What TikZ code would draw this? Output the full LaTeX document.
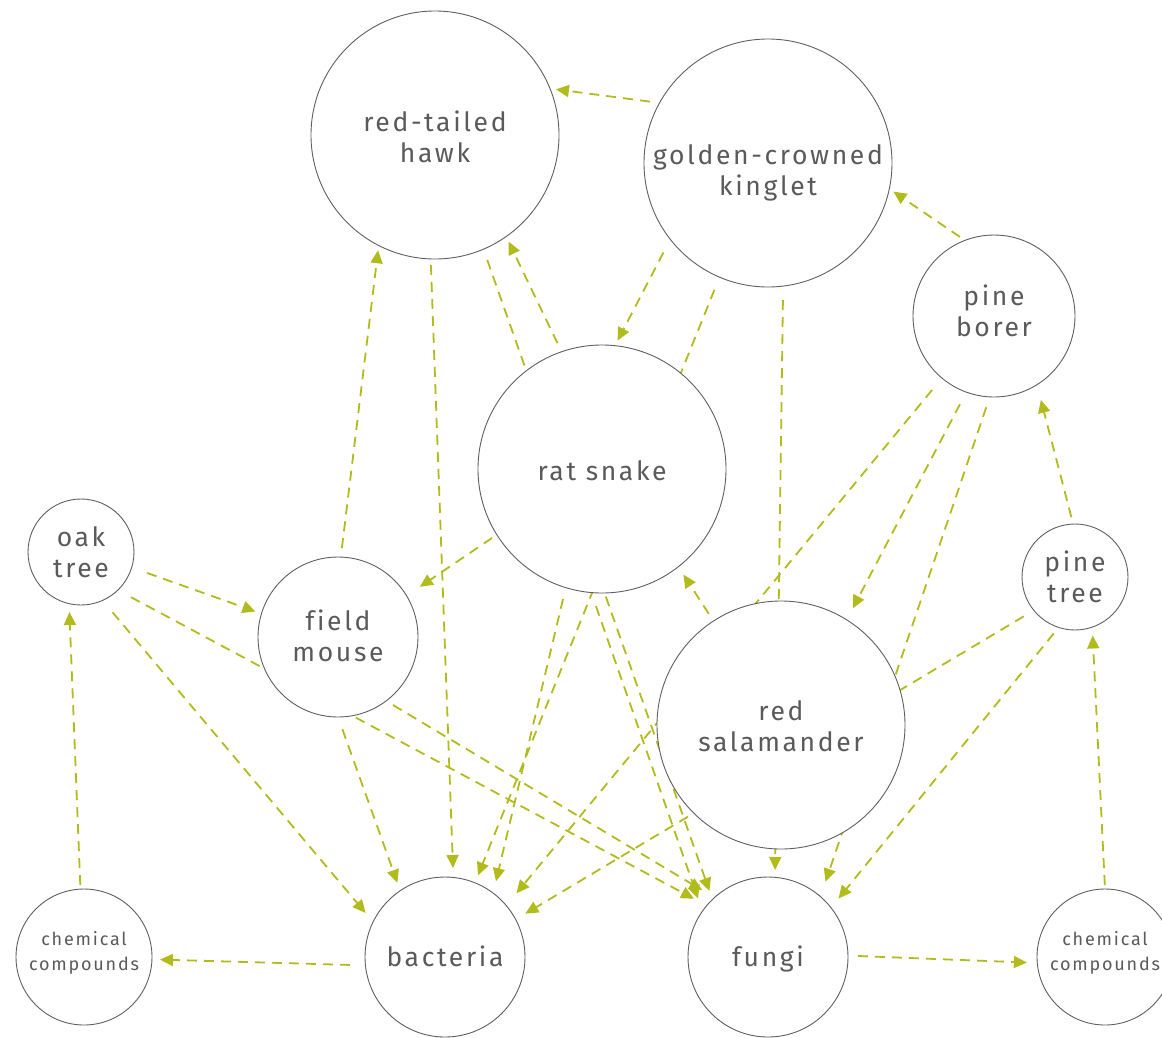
\documentclass[tikz,border=0pt]{standalone}
\usepackage{fontspec}
\setmainfont{Fira Sans}[LetterSpace=10,Ligatures=NoCommon]
\usetikzlibrary{arrows.meta}
\definecolor{edgec}{RGB}{178,187,28}
\definecolor{txt}{RGB}{90,90,90}
\definecolor{ring}{RGB}{95,95,95}
\pgfdeclarelayer{bg}
\pgfsetlayers{bg,main}
% label: vertical shift (down positive, in pt), lines
\newcommand\lbl[2]{\raisebox{-#1pt}[\height][\depth]{\begin{tabular}{@{}c@{}}#2\end{tabular}}}
\begin{document}
\begin{tikzpicture}[x=1pt,y=-1pt,
  nd/.style={circle,draw=ring,line width=0.9pt,fill=white,inner sep=0pt,outer sep=0pt,
    text=txt,align=center,font=\fontsize{26.5}{31}\selectfont},
  bigc/.style={nd,minimum size=248pt},
  midc/.style={nd,minimum size=160pt},
  pinec/.style={nd,minimum size=162pt},
  smallc/.style={nd,minimum size=106pt},
  chemc/.style={nd,minimum size=136pt,font=\fontsize{18}{25}\selectfont},
  edge/.style={draw=edgec,line width=1.8pt,dash pattern=on 10pt off 7pt,
    -{Triangle[length=13pt,width=12pt]}}]
\useasboundingbox (0,0) rectangle (1162,1037);
\clip (0,0) rectangle (1162,1037);
% nodes
\node[bigc]  (H)    at (435,135) {\lbl{5.7}{red-tailed\\hawk}};
\node[bigc]  (K)    at (768,163) {\lbl{11}{golden-crowned\\kinglet}};
\node[pinec] (PB)   at (994,316) {\lbl{-0.8}{pine\\borer}};
\node[bigc]  (RS)   at (602,469) {\lbl{4.8}{rat snake}};
\node[smallc](OT)   at (81,552)  {\lbl{3.7}{oak\\tree}};
\node[midc]  (FM)   at (338,637) {\lbl{2.7}{field\\mouse}};
\node[smallc](PT)   at (1075,577) {\lbl{3.7}{pine\\tree}};
\node[bigc]  (RSal) at (781,725) {\lbl{4.7}{red\\salamander}};
\node[chemc] (CL)   at (84,957)  {\lbl{-4}{chemical\\compounds}};
\node[midc]  (B)    at (445,957) {\lbl{2.8}{bacteria}};
\node[midc]  (F)    at (768,957) {\lbl{2.8}{fungi}};
\node[chemc] (CR)   at (1105,957) {\lbl{-4}{chemical\\compounds}};
% connectors
\begin{pgfonlayer}{bg}
\draw[edge,shorten <=9.8pt,shorten >=6pt]   (K.151.9)  -- (H.22.6);
\draw[edge,shorten <=14.8pt,shorten >=5.7pt] (K.218.3) -- (RS.84.2);
\draw[edge,shorten <=13.6pt,shorten >=8pt]  (K.247.35) -- (B.68.7);
\draw[edge,shorten <=14pt,shorten >=7.3pt]  (K.277.5)  -- (F.85.4);
\draw[edge,shorten <=6.1pt,shorten >=5pt]   (PB.111.6) -- (K.-12.2);
\draw[edge,shorten <=13.6pt,shorten >=13pt] (PB.250.2) -- (RSal.58.4);
\draw[edge,shorten <=15.5pt,shorten >=16pt] (PB.230)   -- (B.40.8);
\draw[edge,shorten <=11pt,shorten >=15.8pt] (PB.267.5) -- (F.49.7);
\draw[edge,shorten <=7pt,shorten >=15.6pt]  (PT.92.9)  -- (PB.-58.1);
\draw[edge,shorten <=11.7pt,shorten >=11.3pt] (PT.219.4) -- (B.28.8);
\draw[edge,shorten <=7.7pt,shorten >=11.8pt] (PT.252.8) -- (F.38.4);
\draw[edge,shorten <=4pt,shorten >=8.4pt]   (CR.90)    -- (PT.-71);
\draw[edge,shorten <=10pt,shorten >=10.4pt] (F.1.3)    -- (CR.185.9);
\draw[edge,shorten <=15.6pt,shorten >=8pt]  (B.186.6)  -- (CL.-2.3);
\draw[edge,shorten <=4pt,shorten >=8.4pt]   (CL.93.2)  -- (OT.257.8);
\draw[edge,shorten <=16.3pt,shorten >=6.4pt] (OT.-17.6) -- (FM.163.9);
\draw[edge,shorten <=14.9pt,shorten >=14.5pt] (OT.-46.2) -- (F.140.6);
\draw[edge,shorten <=15.5pt,shorten >=11.7pt] (OT.-66.8) -- (B.154.8);
\draw[edge,shorten <=9pt,shorten >=4.8pt]   (FM.88.1)  -- (H.243.2);
\draw[edge,shorten <=13pt,shorten >=8.5pt]  (FM.270)   -- (B.124.4);
\draw[edge,shorten <=8pt,shorten >=14.2pt]  (FM.-53.8) -- (F.132);
\draw[edge,shorten <=9.5pt,shorten >=5.5pt] (RS.109.25) -- (H.-55.7);
\draw[edge,shorten <=5.8pt,shorten >=16pt]  (RS.212.1) -- (FM.31.4);
\draw[edge,shorten <=6pt,shorten >=9.4pt]   (H.268.7)  -- (B.84.9);
\draw[edge,shorten <=11.4pt,shorten >=9pt]  (H.-67.4)  -- (F.134.1);
\draw[edge,shorten <=11.7pt,shorten >=12.2pt] (RS.253.3) -- (B.53.4);
\draw[edge,shorten <=14.5pt,shorten >=13.5pt] (RS.265)  -- (F.145.5);
\draw[edge,shorten <=8.6pt,shorten >=9.4pt] (RSal.123.9) -- (RS.-52.6);
\end{pgfonlayer}
\end{tikzpicture}
\end{document}
